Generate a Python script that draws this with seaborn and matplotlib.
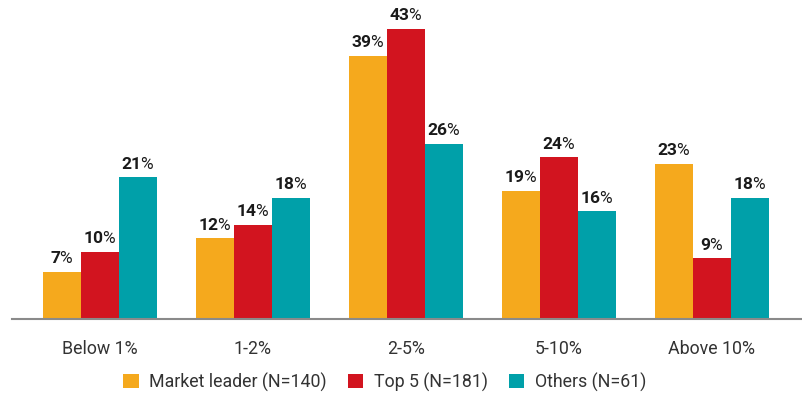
import matplotlib
matplotlib.use("Agg")
import matplotlib.pyplot as plt
import seaborn as sns
import pandas as pd
from matplotlib.patches import Patch

categories = ["Below 1%", "1-2%", "2-5%", "5-10%", "Above 10%"]
series_names = ["Market leader (N=140)", "Top 5 (N=181)", "Others (N=61)"]
market_leader = [7, 12, 39, 19, 23]
top5 = [10, 14, 43, 24, 9]
others = [21, 18, 26, 16, 18]
colors = ["#F5A91D", "#D2141F", "#00A0A9"]

rows = []
for name, vals in zip(series_names, [market_leader, top5, others]):
    for c, v in zip(categories, vals):
        rows.append({"category": c, "series": name, "value": v})
df = pd.DataFrame(rows)

sns.set_theme(style="white")
plt.rcParams['font.family'] = ['Roboto', 'DejaVu Sans']
plt.rcParams['mathtext.fontset'] = 'custom'
plt.rcParams['mathtext.rm'] = 'Roboto'
plt.rcParams['mathtext.bf'] = 'Roboto:bold'

fig = plt.figure(figsize=(8.03, 3.95), dpi=100)
ax = fig.add_axes([12/803, (395-319)/395, (803-12)/803, 319/395])

sns.barplot(data=df, x="category", y="value", hue="series", order=categories,
            hue_order=series_names, palette=colors, width=0.75, ax=ax,
            saturation=1, legend=False, edgecolor="none", linewidth=0)

ax.set_xlim(-0.575, 4.595)
ax.set_ylim(0, 47.3)
ax.set_xlabel("")
ax.set_ylabel("")
ax.set_yticks([])
for s in ["top", "right", "left"]:
    ax.spines[s].set_visible(False)
ax.spines["bottom"].set_color("#8a8a8a")
ax.spines["bottom"].set_linewidth(1.5)
ax.tick_params(axis="x", length=0, pad=15, labelsize=12.8, labelcolor="#333333")

for cont in ax.containers:
    labels = [r"$\mathbf{%d}$%%" % int(round(b.get_height())) for b in cont]
    ax.bar_label(cont, labels=labels, padding=4, fontsize=12.5, color="#1a1a1a")

handles = [Patch(facecolor=c, edgecolor="none") for c in colors]
fig.legend(handles, series_names, loc="center", bbox_to_anchor=(385/803, 1 - 382/395),
           ncol=3, frameon=False, fontsize=12.8, handlelength=0.85, handleheight=0.85,
           columnspacing=1.2, handletextpad=0.6, labelcolor="#333333",
           borderpad=0, borderaxespad=0)

fig.savefig("out.png", dpi=100)
